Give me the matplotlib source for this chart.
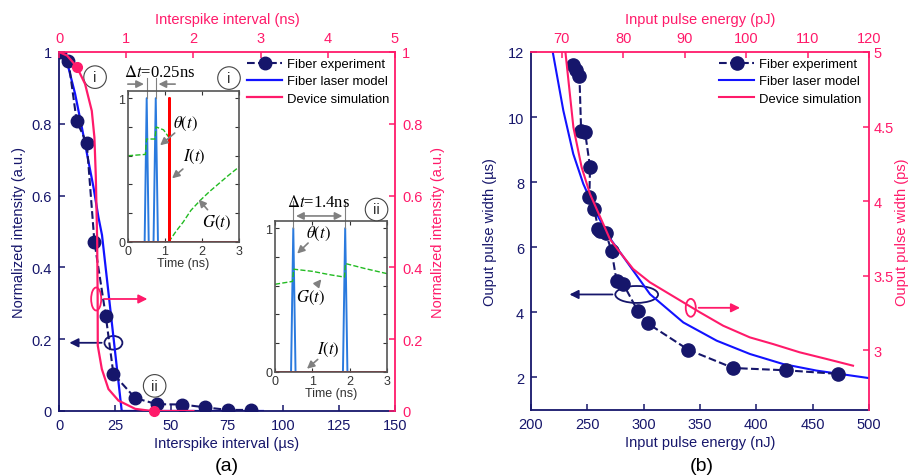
import numpy as np
import matplotlib.pyplot as plt
from matplotlib.patches import Ellipse

plt.rcParams['font.family'] = ['Liberation Sans', 'DejaVu Sans']
plt.rcParams['mathtext.fontset'] = 'stix'

NAVY = '#16166b'
BLUE = '#1212ff'
PINK = '#ff1a6a'
SPK = '#2a7ade'
GRN = '#22bb22'
GRAY = '#808080'

# ---------- panel (a) data ----------
exp_a_x = [0.4, 4.2, 7.9, 12.4, 15.8, 20.9, 24.3, 34.0, 43.7, 55.1, 65.4, 75.5, 85.5]
exp_a_y = [1.0, 0.976, 0.807, 0.746, 0.472, 0.264, 0.103, 0.036, 0.019, 0.018, 0.010, 0.003, 0.003]

model_a_x = [0, 4.2, 7.2, 10.2, 13.1, 15.4, 17.6, 19.2, 28.0, 91.0]
model_a_y = [1.0, 0.957, 0.883, 0.79, 0.697, 0.623, 0.54, 0.49, 0.0, 0.0]

dev_a_x = [0, 0.12, 0.264, 0.388, 0.488, 0.527, 0.548, 0.568, 0.575, 0.577, 0.637, 0.736, 0.885, 1.134, 1.38, 2.0]
dev_a_y = [1.0, 0.99, 0.959, 0.911, 0.836, 0.762, 0.652, 0.474, 0.32, 0.182, 0.117, 0.061, 0.029, 0.006, 0.0, 0.0]
dev_a_mk_x = [0.264, 1.42]
dev_a_mk_y = [0.959, 0.0]

# inset (i)
ins1_spk_t = [0, 0.45, 0.505, 0.56, 0.69, 0.75, 0.81, 3.0]
ins1_spk_v = [0, 0, 1, 0, 0, 1, 0, 0]
ins1_I_t = [0, 1.1, 1.1, 1.1, 3.0]
ins1_I_v = [0, 0, 1.0, 0, 0]
ins1_G_t = [0, 0.47, 0.5, 0.73, 0.76, 0.96, 1.09]
ins1_G_v = [0.6, 0.609, 0.716, 0.716, 0.80, 0.78, 0.733]
ins1_G2_t = [1.1, 1.3, 1.49, 1.7, 1.95, 2.2, 2.4, 2.7, 3.0]
ins1_G2_v = [0.0, 0.075, 0.138, 0.22, 0.289, 0.35, 0.394, 0.46, 0.522]

# inset (ii)
ins2_spk_t = [0, 0.43, 0.49, 0.55, 1.82, 1.88, 1.94, 3.0]
ins2_spk_v = [0, 0, 1, 0, 0, 1, 0, 0]
ins2_G_t = [0, 0.47, 0.5, 1.0, 1.5, 1.86, 1.89, 2.4, 3.0]
ins2_G_v = [0.61, 0.63, 0.715, 0.70, 0.675, 0.66, 0.754, 0.72, 0.684]

# ---------- panel (b) data ----------
exp_b_x = [237.0, 240.0, 243.0, 244.5, 248.0, 252.4, 251.8, 256.0, 259.8, 261.3, 266.3,
           271.6, 276.0, 281.9, 294.7, 303.6, 339.7, 379.5, 426.3, 472.2]
exp_b_y = [11.60, 11.45, 11.27, 9.56, 9.53, 8.47, 7.55, 7.18, 6.56, 6.50, 6.44,
           5.88, 4.95, 4.87, 4.05, 3.66, 2.85, 2.29, 2.22, 2.11]

model_b_x = [219.3, 228.7, 237.5, 246.4, 258.3, 271.6, 279.0, 305.6, 335.2, 364.8, 394.4, 424.0, 453.6, 500]
model_b_y = [12.0, 10.2, 8.87, 7.95, 7.02, 6.2, 5.85, 4.56, 3.69, 3.13, 2.72, 2.41, 2.21, 1.98]

dev_b_x = [70.6, 71.9, 73.24, 74.6, 76.76, 77.84, 79.47, 81.63, 84.35, 87.06, 89.77, 92.48,
           96.27, 100.6, 104.4, 108.7, 113.1, 117.4]
dev_b_y = [5.0, 4.495, 4.227, 4.048, 3.847, 3.746, 3.657, 3.545, 3.456, 3.389, 3.322, 3.255,
           3.165, 3.087, 3.042, 2.987, 2.942, 2.897]

fig = plt.figure(figsize=(9.16, 4.77), dpi=100)


def twin_axes(rect):
    ax = fig.add_axes(rect)
    ax2 = fig.add_axes(rect, facecolor='none')
    ax2.xaxis.set_ticks_position('top')
    ax2.xaxis.set_label_position('top')
    ax2.yaxis.set_ticks_position('right')
    ax2.yaxis.set_label_position('right')
    ax.spines['top'].set_visible(False)
    ax.spines['right'].set_visible(False)
    ax2.spines['left'].set_visible(False)
    ax2.spines['bottom'].set_visible(False)
    for s in ['left', 'bottom']:
        ax.spines[s].set_color(NAVY)
        ax.spines[s].set_linewidth(1.3)
    for s in ['top', 'right']:
        ax2.spines[s].set_color(PINK)
        ax2.spines[s].set_linewidth(1.3)
    ax.tick_params(direction='in', length=4, width=1.1, colors=NAVY, labelsize=10.5, pad=5)
    ax2.tick_params(direction='in', length=4, width=1.1, colors=PINK, labelsize=10.5, pad=5)
    return ax, ax2


# ================= panel (a) =================
axa, axa2 = twin_axes([59 / 916, 1 - 412 / 477, 336 / 916, 359 / 477])
axa.set_xlim(0, 150)
axa.set_ylim(0, 1)
axa2.set_xlim(0, 5)
axa2.set_ylim(0, 1)
yt = [0, 0.2, 0.4, 0.6, 0.8, 1]
ytl = ['0', '0.2', '0.4', '0.6', '0.8', '1']
axa.set_xticks([0, 25, 50, 75, 100, 125, 150])
axa.set_yticks(yt, ytl)
axa2.set_xticks([0, 1, 2, 3, 4, 5])
axa2.set_yticks(yt, ytl)

axa.plot(model_a_x, model_a_y, color=BLUE, lw=1.6, zorder=2)
axa.plot(exp_a_x, exp_a_y, '--o', color=NAVY, ms=9, lw=1.5, zorder=3)
axa2.plot(dev_a_x, dev_a_y, color=PINK, lw=1.6)
axa2.plot(dev_a_mk_x, dev_a_mk_y, 'o', color=PINK, ms=7, clip_on=False)

axa.set_xlabel('Interspike interval (µs)', color=NAVY, fontsize=10.5, labelpad=3)
axa.set_ylabel('Normalized intensity (a.u.)', color=NAVY, fontsize=10.5, labelpad=4)
axa2.set_xlabel('Interspike interval (ns)', color=PINK, fontsize=10.5, labelpad=6)
axa2.set_ylabel('Normalized intensity (a.u.)', color=PINK, fontsize=10.5, labelpad=6)

# ellipses and arrows
axa.add_patch(Ellipse((16.6, 0.312), 4.5, 0.064, fill=False, ec=PINK, lw=1.3))
axa.annotate('', xy=(40.7, 0.312), xytext=(18.9, 0.312),
             arrowprops=dict(arrowstyle='-|>', color=PINK, lw=1.3, mutation_scale=13))
axa.add_patch(Ellipse((24.3, 0.19), 8.0, 0.038, fill=False, ec=NAVY, lw=1.3))
axa.annotate('', xy=(3.4, 0.19), xytext=(20.3, 0.19),
             arrowprops=dict(arrowstyle='-|>', color=NAVY, lw=1.3, mutation_scale=13))

circ = dict(boxstyle='circle,pad=0.28', fc='white', ec='#444444', lw=0.8)
axa.text(16.1, 0.93, 'i', fontsize=11, ha='center', va='center', color='#333333', bbox=circ)
axa.text(42.7, 0.07, 'ii', fontsize=11, ha='center', va='center', color='#333333', bbox=circ)

la = [axa.lines[1], axa.lines[0], axa2.lines[0]]
axa2.legend(la, ['Fiber experiment', 'Fiber laser model', 'Device simulation'],
            loc='upper left', bbox_to_anchor=(247 / 916, 1 - 59 / 477), bbox_transform=fig.transFigure,
            frameon=False, fontsize=9.4, handlelength=2.7, handletextpad=0.35,
            labelspacing=0.4, borderpad=0, borderaxespad=0)


def inset(rect):
    ia = fig.add_axes(rect)
    ia.set_xlim(0, 3)
    ia.set_ylim(0, 1.05)
    ia.set_xticks([0, 1, 2, 3])
    ia.set_yticks([0, 0.2, 0.4, 0.6, 0.8, 1.0], ['0', '', '', '', '', '1'])
    ia.tick_params(direction='in', length=3, width=0.8, top=True, right=True,
                   labelsize=9, pad=2, colors='#333333')
    for s in ia.spines.values():
        s.set_color('#555555')
        s.set_linewidth(1.2)
    ia.set_xlabel('Time (ns)', fontsize=9, labelpad=0, color='#333333')
    return ia


arr = dict(arrowstyle='-|>', color=GRAY, lw=1.2, mutation_scale=11)
serif = dict(family=['Liberation Serif', 'DejaVu Serif'], fontsize=12)

# inset (i)
i1 = inset([128 / 916, 1 - 243 / 477, 111 / 916, 151 / 477])
i1.plot(ins1_spk_t, ins1_spk_v, color=SPK, lw=1.4)
i1.plot(ins1_G_t, ins1_G_v, '--', color=GRN, lw=1.0)
i1.plot(ins1_G2_t, ins1_G2_v, '--', color=GRN, lw=1.0)
i1.plot(ins1_I_t, ins1_I_v, color='red', lw=2.0)
i1.text(1.54, 0.825, r'$\theta(t)$', ha='center', va='center', **serif)
i1.annotate('', xy=(0.81, 0.66), xytext=(1.32, 0.77), arrowprops=arr)
i1.text(1.78, 0.60, r'$I(t)$', ha='center', va='center', **serif)
i1.annotate('', xy=(1.135, 0.43), xytext=(1.54, 0.52), arrowprops=arr)
i1.text(2.4, 0.14, r'$G(t)$', ha='center', va='center', **serif)
i1.annotate('', xy=(1.86, 0.31), xytext=(2.2, 0.21), arrowprops=arr)
i1.text(0.86, 1.18, r'$\Delta t$=0.25ns', ha='center', va='center', **serif)
for tx in [0.505, 0.75]:
    i1.plot([tx, tx], [1.0, 1.14], color=GRAY, lw=0.8, clip_on=False)
i1.annotate('', xy=(0.505, 1.098), xytext=(-0.08, 1.098), arrowprops=arr, annotation_clip=False)
i1.annotate('', xy=(0.75, 1.098), xytext=(1.35, 1.098), arrowprops=arr, annotation_clip=False)
i1.text(2.73, 1.14, 'i', fontsize=11, ha='center', va='center', color='#333333', bbox=circ)

# inset (ii)
i2 = inset([275 / 916, 1 - 373 / 477, 112 / 916, 151 / 477])
i2.plot(ins2_spk_t, ins2_spk_v, color=SPK, lw=1.4)
i2.plot(ins2_G_t, ins2_G_v, '--', color=GRN, lw=1.0)
i2.plot([0, 3], [0, 0], color='red', lw=2.0)
i2.text(1.16, 0.97, r'$\theta(t)$', ha='center', va='center', **serif)
i2.annotate('', xy=(0.54, 0.81), xytext=(0.94, 0.91), arrowprops=arr)
i2.text(0.94, 0.52, r'$G(t)$', ha='center', va='center', **serif)
i2.annotate('', xy=(1.29, 0.66), xytext=(1.07, 0.59), arrowprops=arr)
i2.text(1.43, 0.16, r'$I(t)$', ha='center', va='center', **serif)
i2.annotate('', xy=(0.80, 0.01), xytext=(1.2, 0.1), arrowprops=arr)
i2.text(1.16, 1.18, r'$\Delta t$=1.4ns', ha='center', va='center', **serif)
for tx in [0.49, 1.88]:
    i2.plot([tx, tx], [1.0, 1.19], color=GRAY, lw=0.8, clip_on=False)
i2.annotate('', xy=(0.49, 1.085), xytext=(1.88, 1.085),
            arrowprops=dict(arrowstyle='<|-|>', color=GRAY, lw=1.2, mutation_scale=11),
            annotation_clip=False)
i2.text(2.72, 1.13, 'ii', fontsize=11, ha='center', va='center', color='#333333', bbox=circ)

# ================= panel (b) =================
axb, axb2 = twin_axes([531 / 916, 1 - 411 / 477, 338 / 916, 358 / 477])
axb.set_xlim(200, 500)
axb.set_ylim(1, 12)
axb2.set_xlim(65, 120)
axb2.set_ylim(2.6, 5)
axb.set_xticks([200, 250, 300, 350, 400, 450, 500])
axb.set_yticks([2, 4, 6, 8, 10, 12])
axb2.set_xticks([70, 80, 90, 100, 110, 120])
axb2.set_yticks([3, 3.5, 4, 4.5, 5], ['3', '3.5', '4', '4.5', '5'])
axb2.tick_params(axis='y', pad=3)

axb.plot(model_b_x, model_b_y, color=BLUE, lw=1.5, zorder=2)
axb.plot(exp_b_x, exp_b_y, '--o', color=NAVY, ms=9.5, lw=1.5, zorder=3)
axb2.plot(dev_b_x, dev_b_y, color=PINK, lw=1.5)

axb.set_xlabel('Input pulse energy (nJ)', color=NAVY, fontsize=10.5, labelpad=3)
axb.set_ylabel('Ouput pulse width (µs)', color=NAVY, fontsize=10.5, labelpad=8)
axb2.set_xlabel('Input pulse energy (pJ)', color=PINK, fontsize=10.5, labelpad=6)
axb2.set_ylabel('Ouput pulse width (ps)', color=PINK, fontsize=10.5, labelpad=1)

axb.add_patch(Ellipse((293.8, 4.55), 38, 0.52, fill=False, ec=NAVY, lw=1.3))
axb.annotate('', xy=(231.7, 4.55), xytext=(274.8, 4.55),
             arrowprops=dict(arrowstyle='-|>', color=NAVY, lw=1.3, mutation_scale=13))
axb.add_patch(Ellipse((341.8, 4.14), 8.9, 0.55, fill=False, ec=PINK, lw=1.3))
axb.annotate('', xy=(388, 4.14), xytext=(346.3, 4.14),
             arrowprops=dict(arrowstyle='-|>', color=PINK, lw=1.3, mutation_scale=13))

lb = [axb.lines[1], axb.lines[0], axb2.lines[0]]
axb2.legend(lb, ['Fiber experiment', 'Fiber laser model', 'Device simulation'],
            loc='upper left', bbox_to_anchor=(719 / 916, 1 - 59 / 477), bbox_transform=fig.transFigure,
            frameon=False, fontsize=9.4, handlelength=2.7, handletextpad=0.35,
            labelspacing=0.4, borderpad=0, borderaxespad=0)

fig.text(227 / 916, 1 - 467 / 477, '(a)', fontsize=14, ha='center', va='center')
fig.text(702 / 916, 1 - 467 / 477, '(b)', fontsize=14, ha='center', va='center')

fig.savefig('out.png', dpi=100)
